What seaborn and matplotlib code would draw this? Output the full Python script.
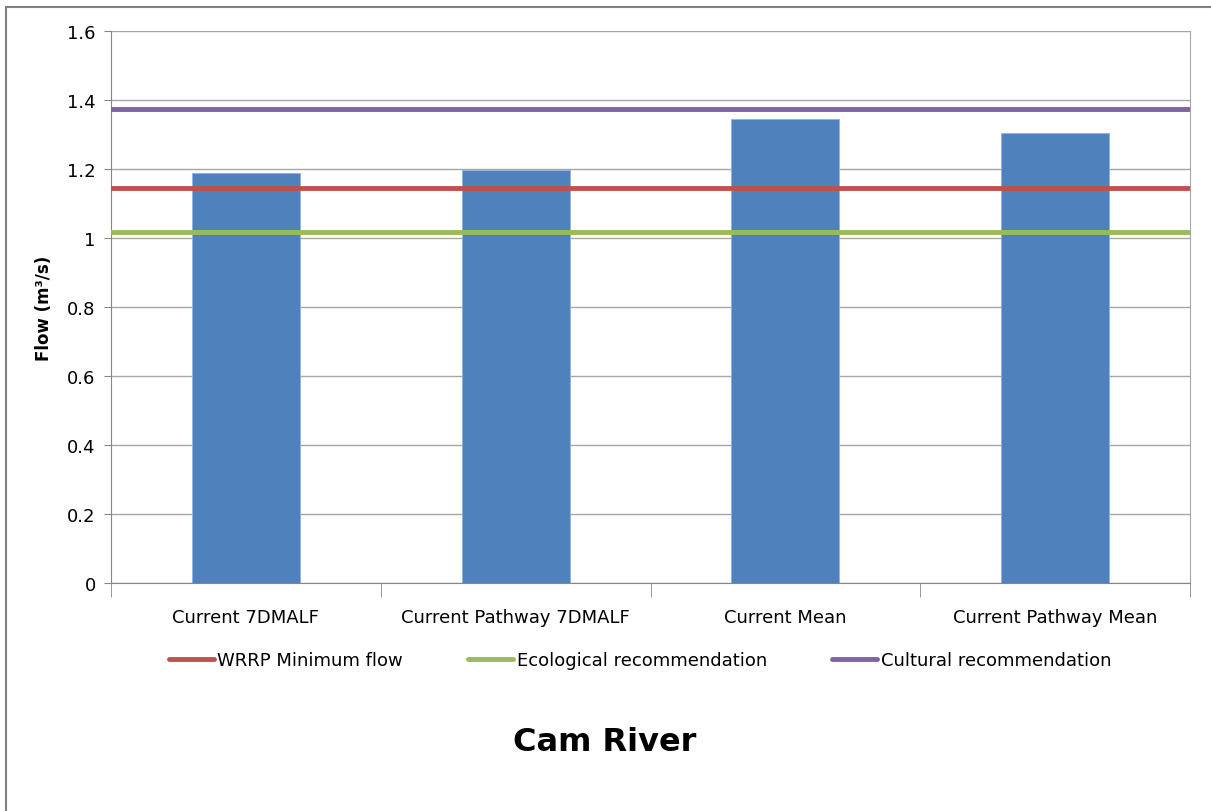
import matplotlib
matplotlib.use('Agg')
import matplotlib.pyplot as plt
import matplotlib.ticker as mticker
import seaborn as sns
import pandas as pd
from matplotlib.lines import Line2D

# Datos
categorias = ['Current 7DMALF', 'Current Pathway 7DMALF', 'Current Mean', 'Current Pathway Mean']
caudales = [1.188, 1.196, 1.345, 1.304]

umbrales_nombres = ['WRRP Minimum flow', 'Ecological recommendation', 'Cultural recommendation']
umbrales_valores = [1.145, 1.017, 1.374]
umbrales_colores = ['#C0504D', '#9BBB59', '#8064A2']

sns.set_style('white')
plt.rcParams['font.family'] = ['DejaVu Sans']
plt.rcParams['text.color'] = 'black'
plt.rcParams['axes.labelcolor'] = 'black'
plt.rcParams['xtick.color'] = 'black'
plt.rcParams['ytick.color'] = 'black'

df = pd.DataFrame({'categoria': categorias, 'caudal': caudales})

fig = plt.figure(figsize=(12.11, 8.12), dpi=100)
ax = fig.add_axes([111 / 1211, 1 - 584 / 812, (1190 - 111) / 1211, (584 - 32) / 812])

sns.barplot(data=df, x='categoria', y='caudal', color='#4F81BD', saturation=1,
            width=0.4, edgecolor='#8EB4E3', linewidth=0.6, ax=ax, zorder=2)

for nombre, valor, color in zip(umbrales_nombres, umbrales_valores, umbrales_colores):
    ax.axhline(valor, color=color, linewidth=3.5, zorder=3, label=nombre)

ax.set_ylim(0, 1.6)
ax.set_xlim(-0.5, len(categorias) - 0.5)
ax.yaxis.set_major_locator(mticker.MultipleLocator(0.2))
ax.yaxis.set_major_formatter(mticker.FuncFormatter(lambda v, p: f'{v:g}'))
ax.grid(True, axis='y', color='#A6A6A6', linewidth=1, zorder=0)
ax.set_axisbelow(True)

ax.spines['top'].set_visible(False)
ax.spines['left'].set_color('#868686')
ax.spines['bottom'].set_color('#868686')
ax.spines['right'].set_color('#A6A6A6')

ax.tick_params(axis='y', which='major', length=5, color='#868686', labelsize=13,
               direction='out', left=True, pad=6)
ax.tick_params(axis='x', which='major', length=0, labelsize=13, pad=18)
ax.set_xticks([i - 0.5 for i in range(len(categorias) + 1)], minor=True)
ax.tick_params(axis='x', which='minor', length=10, color='#868686', direction='out', bottom=True)

ax.set_xlabel('')
ax.set_ylabel('Flow (m³/s)', fontsize=12, fontweight='bold', labelpad=10)

handles = [Line2D([0], [0], color=c, linewidth=3.5) for c in umbrales_colores]
fig.legend(handles, umbrales_nombres, loc='center', bbox_to_anchor=(640 / 1211, 1 - 661 / 812),
           ncol=3, frameon=False, fontsize=13, handlelength=2.5, handletextpad=0.2,
           columnspacing=3.6)

fig.text(605 / 1211, 1 - 743 / 812, 'Cam River', ha='center', va='center',
         fontsize=23, fontweight='bold')

# Borde exterior
fig.add_artist(Line2D([6 / 1211, 6 / 1211], [0, 1 - 8 / 812], transform=fig.transFigure,
                      color='#808080', linewidth=1.5))
fig.add_artist(Line2D([6 / 1211, 1], [1 - 8 / 812, 1 - 8 / 812], transform=fig.transFigure,
                      color='#808080', linewidth=1.5))

fig.savefig('out.png', dpi=100)
plt.close()
